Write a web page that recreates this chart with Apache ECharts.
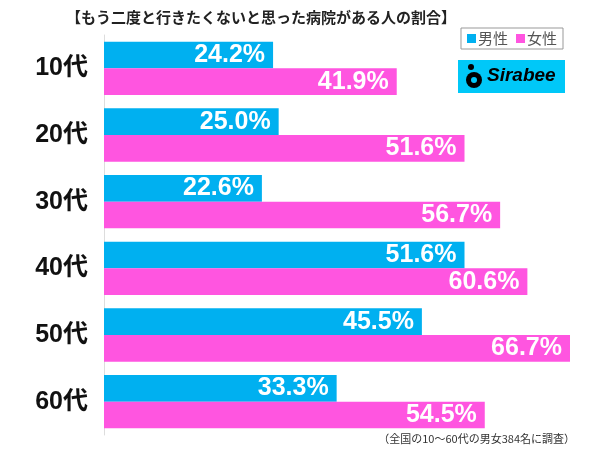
<!DOCTYPE html>
<html><head><meta charset="utf-8">
<script src="https://cdn.jsdelivr.net/npm/echarts@6/dist/echarts.min.js"></script>
<style>html,body{margin:0;padding:0;background:#fff}#c{width:600px;height:449px}</style>
</head><body><div id="c"></div>
<script>
const categories = ['10代','20代','30代','40代','50代','60代'];
const male = [24.2, 25.0, 22.6, 51.6, 45.5, 33.3];
const female = [41.9, 51.6, 56.7, 60.6, 66.7, 54.5];
const seriesNames = ['男性','女性'];
const titleText = '【もう二度と行きたくないと思った病院がある人の割合】';
const footText = '（全国の10～60代の男女384名に調査）';

const chart = echarts.init(document.getElementById('c'));
const labelCfg = {
  show: true, position: 'insideRight', color: '#fff', fontWeight: 'bold',
  fontSize: 25, fontFamily: 'Liberation Sans, Arial, sans-serif', distance: 8,
  formatter: p => p.value.toFixed(1) + '%'
};
chart.setOption({
  animation: false,
  title: { text: titleText, left: 61, top: 5,
    textStyle: { fontSize: 15, fontWeight: 'bold', color: '#222', fontFamily: 'Noto Sans CJK JP' } },
  legend: { data: seriesNames, right: 37, top: 28, itemWidth: 9, itemHeight: 9, itemGap: 8,
    icon: 'rect', borderColor: '#999', borderWidth: 1, padding: [3, 6, 3, 6],
    textStyle: { fontSize: 15, color: '#555', fontFamily: 'Noto Sans CJK JP', padding: [0,0,0,-3] } },
  grid: { left: 104, right: 30, top: 35, bottom: 14, containLabel: false },
  xAxis: { type: 'value', min: 0, max: 66.7, show: false },
  yAxis: { type: 'category', data: categories, inverse: true,
    axisLine: { show: true, lineStyle: { color: '#ddd', width: 1 } },
    axisTick: { show: false },
    axisLabel: { color: '#111', fontSize: 25, fontWeight: 'bold', margin: 16,
      fontFamily: 'Liberation Sans, Noto Sans CJK JP, sans-serif' } },
  series: [
    { name: seriesNames[0], type: 'bar', data: male, barGap: '0%', barCategoryGap: '20%',
      itemStyle: { color: '#00b0f0' }, label: labelCfg },
    { name: seriesNames[1], type: 'bar', data: female,
      itemStyle: { color: '#ff55e0' }, label: labelCfg }
  ],
  graphic: [
    { type: 'rect', shape: { x: 458, y: 60, width: 107, height: 33 }, style: { fill: '#00c8f8' } },
    { type: 'circle', shape: { cx: 474, cy: 80, r: 8 }, style: { fill: '#000' } },
    { type: 'circle', shape: { cx: 474, cy: 80, r: 3 }, style: { fill: '#00c8f8' } },
    { type: 'circle', shape: { cx: 471, cy: 67, r: 3 }, style: { fill: '#000' } },
    { type: 'text', left: 487, top: 66, style: { text: 'Sirabee', fill: '#000', fontSize: 19,
      fontWeight: 'bold', fontStyle: 'italic', fontFamily: 'Liberation Sans, Arial, sans-serif' } },
    { type: 'text', right: 25, top: 433, style: { text: footText, fill: '#333', fontSize: 11,
      fontFamily: 'Noto Sans CJK JP' } }
  ]
});
</script></body></html>
